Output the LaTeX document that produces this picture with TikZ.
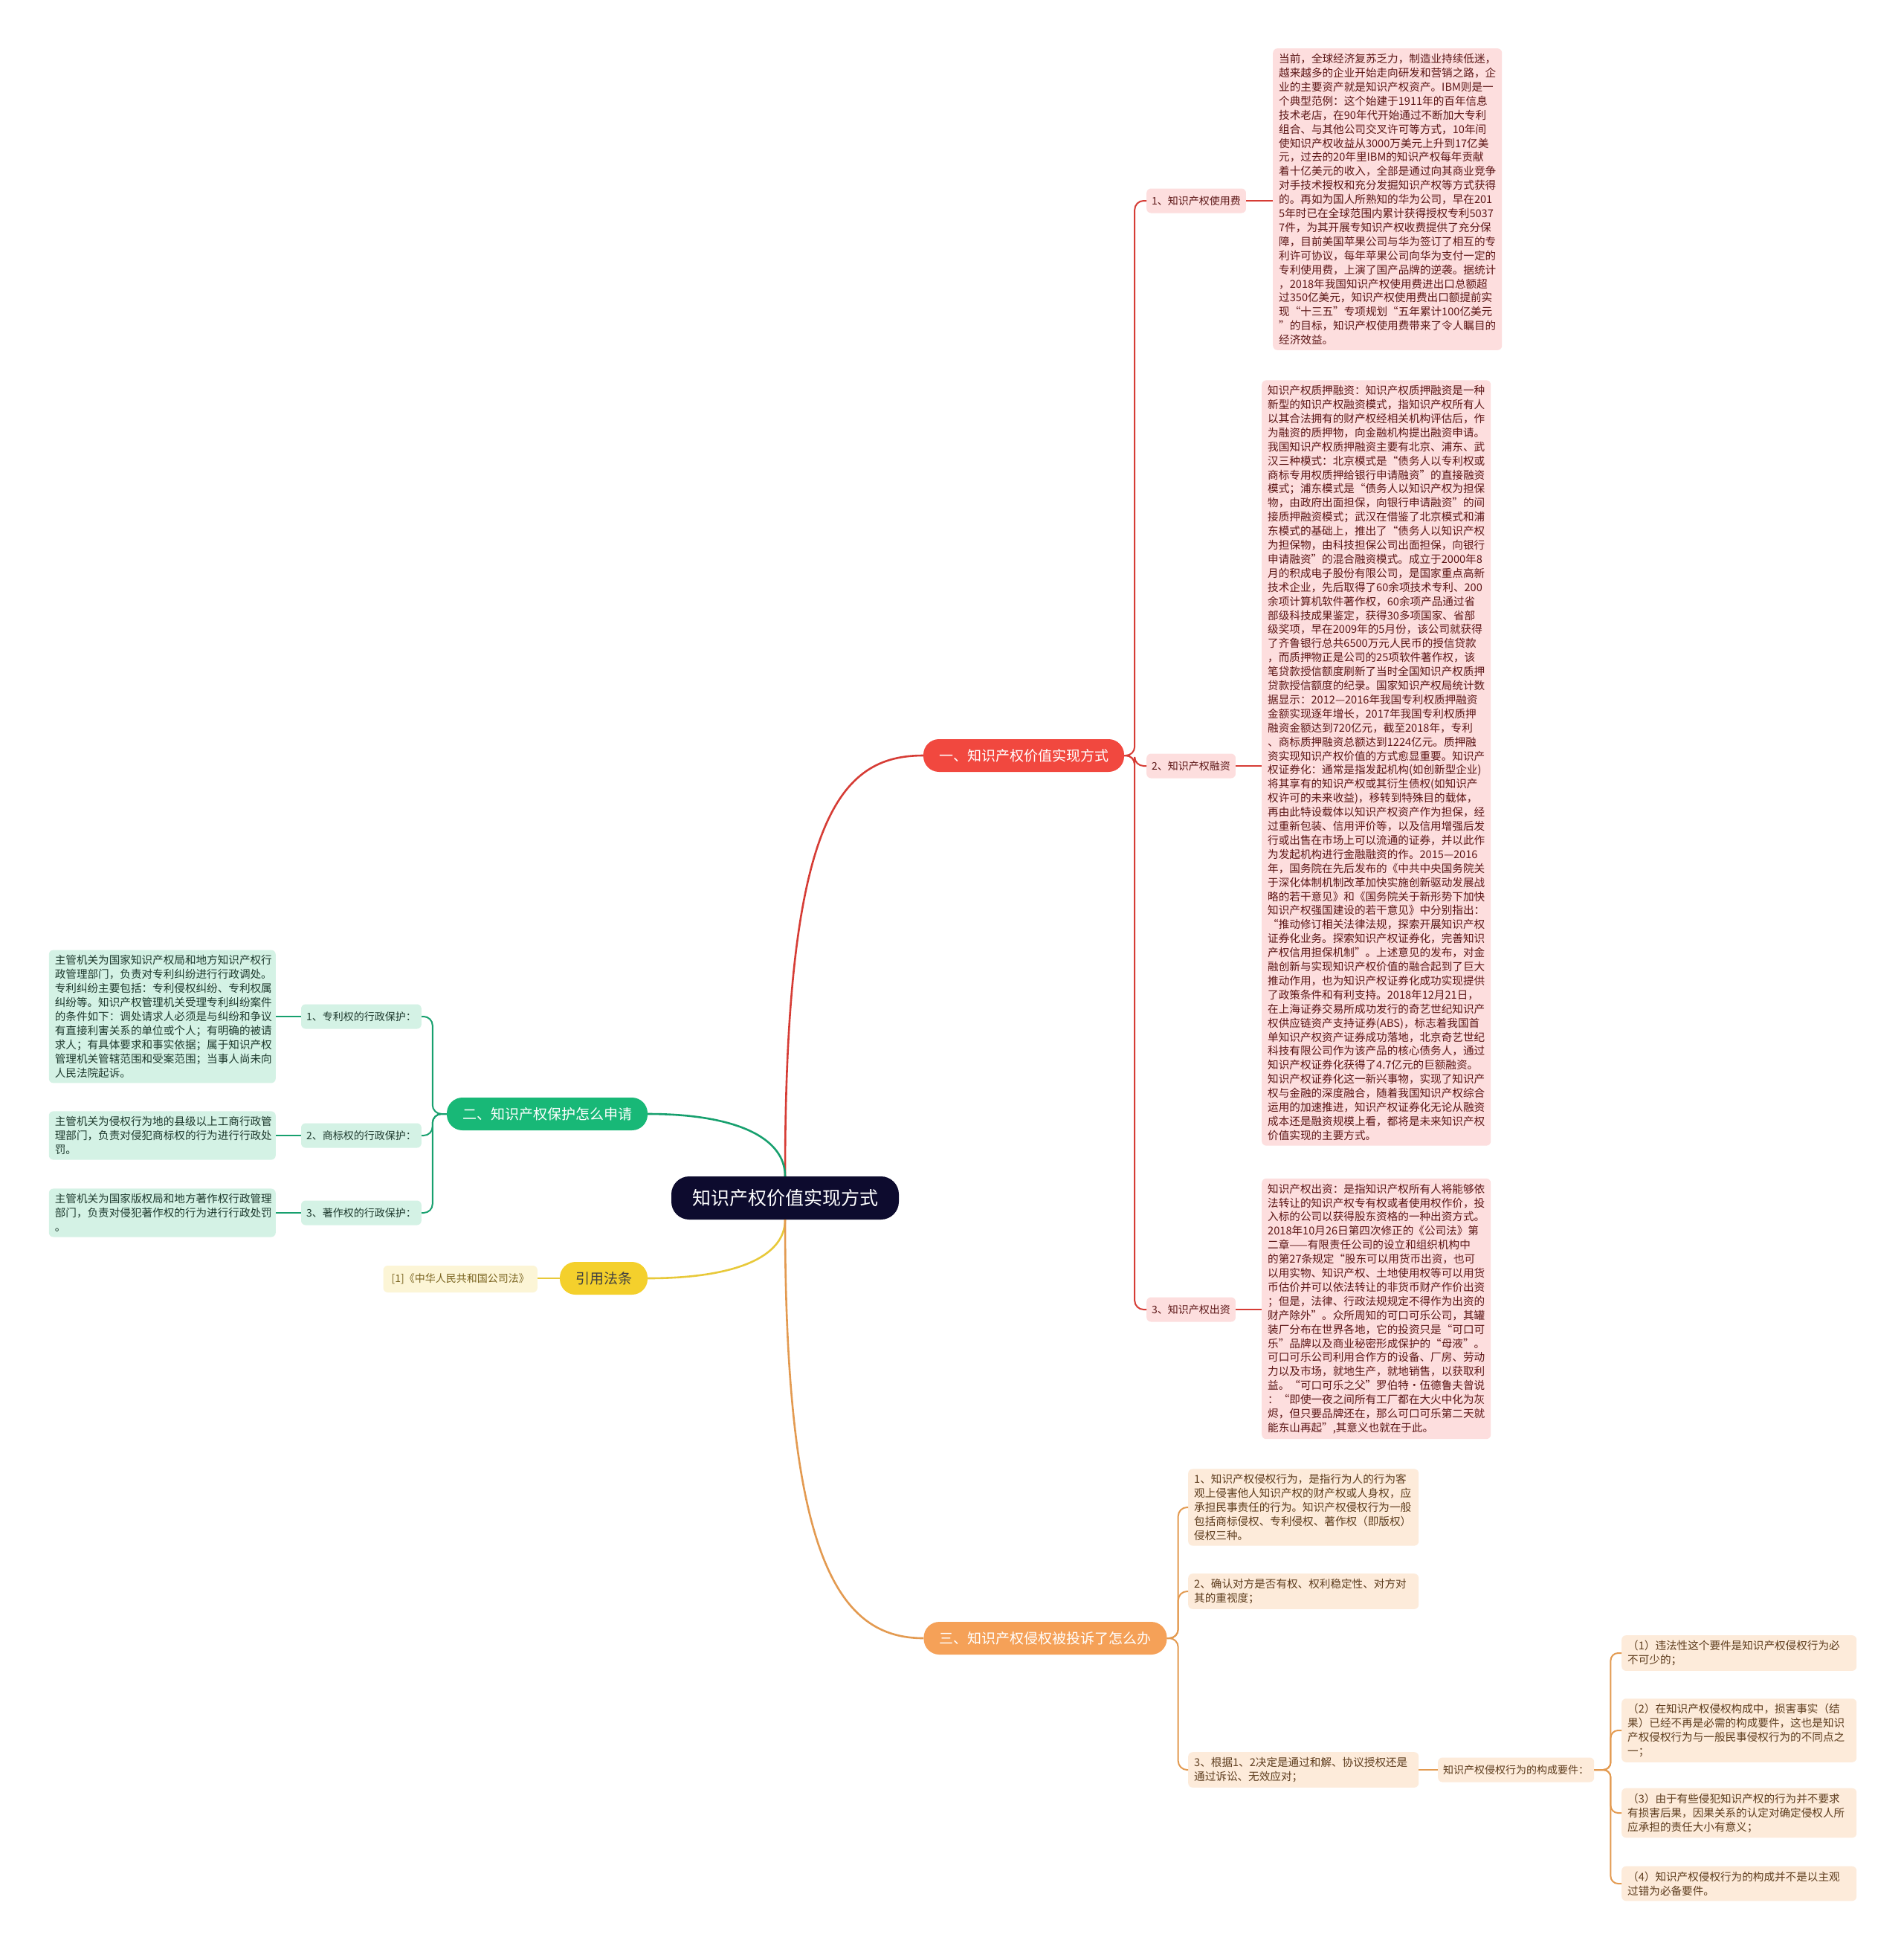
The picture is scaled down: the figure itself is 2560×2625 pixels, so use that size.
\documentclass[tikz,border=0pt]{standalone}
\usepackage{fontspec}
\setmainfont{Noto Sans CJK SC}
\definecolor{centerfill}{HTML}{0D0B2E}
\definecolor{redmain}{HTML}{F1483F}
\definecolor{redline}{HTML}{D63C35}
\definecolor{redleaf}{HTML}{FDDEDE}
\definecolor{redtext}{HTML}{5C1616}
\definecolor{greenmain}{HTML}{18B877}
\definecolor{greenline}{HTML}{17A06E}
\definecolor{greenleaf}{HTML}{D4F2E5}
\definecolor{greentext}{HTML}{1E3A2E}
\definecolor{yellowmain}{HTML}{F4D02C}
\definecolor{yellowline}{HTML}{E8C93A}
\definecolor{yellowleaf}{HTML}{FCF5D6}
\definecolor{yellowtext}{HTML}{7A6420}
\definecolor{orangemain}{HTML}{F5A158}
\definecolor{orangeline}{HTML}{E39A50}
\definecolor{orangeleaf}{HTML}{FDEBDA}
\definecolor{orangetext}{HTML}{5E3D1E}
\tikzset{
  centerbox/.style={fill=centerfill, text=white, rounded corners=24pt, inner xsep=28pt, inner ysep=0pt, minimum height=58pt, font=\fontsize{25}{30}\selectfont},
  mainbox/.style={rounded corners=21pt, inner xsep=21pt, inner ysep=0pt, minimum height=44pt, font=\fontsize{19}{23}\selectfont},
  labelbox/.style={rounded corners=6pt, inner xsep=7pt, inner ysep=0pt, minimum height=33pt, font=\fontsize{14}{18}\selectfont},
  leafbox/.style={rounded corners=6pt, inner xsep=8pt, inner ysep=7pt, align=left, font=\fontsize{14.6}{18.9}\selectfont},
  redlabel/.style={labelbox, fill=redleaf, text=redtext},
  greenlabel/.style={labelbox, fill=greenleaf, text=greentext},
  orangelabel/.style={labelbox, fill=orangeleaf, text=orangetext},
  redleafbox/.style={leafbox, fill=redleaf, text=redtext, text width=292pt},
  greenleafbox/.style={leafbox, fill=greenleaf, text=greentext, text width=289pt},
  orangeleafbox/.style={leafbox, fill=orangeleaf, text=orangetext, text width=294pt},
  orangesmallbox/.style={leafbox, fill=orangeleaf, text=orangetext, text width=300pt},
  yellowleafbox/.style={labelbox, fill=yellowleaf, text=yellowtext, minimum height=36pt, inner xsep=11pt},
  redconn/.style={draw=redline, line width=2pt, rounded corners=12pt},
  greenconn/.style={draw=greenline, line width=2pt, rounded corners=12pt},
  orangeconn/.style={draw=orangeline, line width=2pt, rounded corners=12pt},
  yellowconn/.style={draw=yellowline, line width=2pt},
}
\begin{document}
\begin{tikzpicture}[x=1pt,y=-1pt]
\useasboundingbox (0,0) rectangle (2560,2625);
\fill[white] (0,0) rectangle (2560,2625);

% center and main branches
\node[centerbox] (c) at (1056,1611) {知识产权价值实现方式};
\node[mainbox, fill=redmain, text=white] (r) at (1377,1016) {一、知识产权价值实现方式};
\node[mainbox, fill=greenmain, text=white] (g) at (736,1498) {二、知识产权保护怎么申请};
\node[mainbox, fill=yellowmain, text=black!75] (y) at (812,1719) {引用法条};
\node[mainbox, fill=orangemain, text=white] (o) at (1406,2203) {三、知识产权侵权被投诉了怎么办};

\draw[draw=redline, line width=2.6pt] (c.north) .. controls (1056,1100) and (1130,1016) .. (r.west);
\draw[draw=greenline, line width=2.6pt] (c.north) .. controls (1056,1530) and (990,1498) .. (g.east);
\draw[draw=yellowline, line width=2.6pt] (c.south) .. controls (1056,1690) and (990,1719) .. (y.east);
\draw[draw=orangeline, line width=2.6pt] (c.south) .. controls (1056,2100) and (1130,2203) .. (o.west);

% red branch
\node[redlabel, anchor=west] (r1) at (1542,270) {1、知识产权使用费};
\node[redlabel, anchor=west] (r2) at (1542,1030) {2、知识产权融资};
\node[redlabel, anchor=west] (r3) at (1542,1761) {3、知识产权出资};

\node[redleafbox, anchor=west] (r1t) at (1712,268) {当前，全球经济复苏乏力，制造业持续低迷，\\
越来越多的企业开始走向研发和营销之路，企\\
业的主要资产就是知识产权资产。IBM则是一\\
个典型范例：这个始建于1911年的百年信息\\
技术老店，在90年代开始通过不断加大专利\\
组合、与其他公司交叉许可等方式，10年间\\
使知识产权收益从3000万美元上升到17亿美\\
元，过去的20年里IBM的知识产权每年贡献\\
着十亿美元的收入，全部是通过向其商业竞争\\
对手技术授权和充分发掘知识产权等方式获得\\
的。再如为国人所熟知的华为公司，早在201\\
5年时已在全球范围内累计获得授权专利5037\\
7件，为其开展专知识产权收费提供了充分保\\
障，目前美国苹果公司与华为签订了相互的专\\
利许可协议，每年苹果公司向华为支付一定的\\
专利使用费，上演了国产品牌的逆袭。据统计\\
，2018年我国知识产权使用费进出口总额超\\
过350亿美元，知识产权使用费出口额提前实\\
现“十三五”专项规划“五年累计100亿美元\\
”的目标，知识产权使用费带来了令人瞩目的\\
经济效益。};

\node[redleafbox, anchor=west] (r2t) at (1697,1026) {知识产权质押融资：知识产权质押融资是一种\\
新型的知识产权融资模式，指知识产权所有人\\
以其合法拥有的财产权经相关机构评估后，作\\
为融资的质押物，向金融机构提出融资申请。\\
我国知识产权质押融资主要有北京、浦东、武\\
汉三种模式：北京模式是“债务人以专利权或\\
商标专用权质押给银行申请融资”的直接融资\\
模式；浦东模式是“债务人以知识产权为担保\\
物，由政府出面担保，向银行申请融资”的间\\
接质押融资模式；武汉在借鉴了北京模式和浦\\
东模式的基础上，推出了“债务人以知识产权\\
为担保物，由科技担保公司出面担保，向银行\\
申请融资”的混合融资模式。成立于2000年8\\
月的积成电子股份有限公司，是国家重点高新\\
技术企业，先后取得了60余项技术专利、200\\
余项计算机软件著作权，60余项产品通过省\\
部级科技成果鉴定，获得30多项国家、省部\\
级奖项，早在2009年的5月份，该公司就获得\\
了齐鲁银行总共6500万元人民币的授信贷款\\
，而质押物正是公司的25项软件著作权，该\\
笔贷款授信额度刷新了当时全国知识产权质押\\
贷款授信额度的纪录。国家知识产权局统计数\\
据显示：2012—2016年我国专利权质押融资\\
金额实现逐年增长，2017年我国专利权质押\\
融资金额达到720亿元，截至2018年，专利\\
、商标质押融资总额达到1224亿元。质押融\\
资实现知识产权价值的方式愈显重要。知识产\\
权证券化：通常是指发起机构(如创新型企业)\\
将其享有的知识产权或其衍生债权(如知识产\\
权许可的未来收益)，移转到特殊目的载体，\\
再由此特设载体以知识产权资产作为担保，经\\
过重新包装、信用评价等，以及信用增强后发\\
行或出售在市场上可以流通的证券，并以此作\\
为发起机构进行金融融资的作。2015—2016\\
年，国务院在先后发布的《中共中央国务院关\\
于深化体制机制改革加快实施创新驱动发展战\\
略的若干意见》和《国务院关于新形势下加快\\
知识产权强国建设的若干意见》中分别指出：\\
“推动修订相关法律法规，探索开展知识产权\\
证券化业务。探索知识产权证券化，完善知识\\
产权信用担保机制”。上述意见的发布，对金\\
融创新与实现知识产权价值的融合起到了巨大\\
推动作用，也为知识产权证券化成功实现提供\\
了政策条件和有利支持。2018年12月21日，\\
在上海证券交易所成功发行的奇艺世纪知识产\\
权供应链资产支持证券(ABS)，标志着我国首\\
单知识产权资产证券成功落地，北京奇艺世纪\\
科技有限公司作为该产品的核心债务人，通过\\
知识产权证券化获得了4.7亿元的巨额融资。\\
知识产权证券化这一新兴事物，实现了知识产\\
权与金融的深度融合，随着我国知识产权综合\\
运用的加速推进，知识产权证券化无论从融资\\
成本还是融资规模上看，都将是未来知识产权\\
价值实现的主要方式。};

\node[redleafbox, anchor=west] (r3t) at (1697,1760) {知识产权出资：是指知识产权所有人将能够依\\
法转让的知识产权专有权或者使用权作价，投\\
入标的公司以获得股东资格的一种出资方式。\\
2018年10月26日第四次修正的《公司法》第\\
二章——有限责任公司的设立和组织机构中\\
的第27条规定“股东可以用货币出资，也可\\
以用实物、知识产权、土地使用权等可以用货\\
币估价并可以依法转让的非货币财产作价出资\\
；但是，法律、行政法规规定不得作为出资的\\
财产除外”。众所周知的可口可乐公司，其罐\\
装厂分布在世界各地，它的投资只是“可口可\\
乐”品牌以及商业秘密形成保护的“母液”。\\
可口可乐公司利用合作方的设备、厂房、劳动\\
力以及市场，就地生产，就地销售，以获取利\\
益。“可口可乐之父”罗伯特·伍德鲁夫曾说\\
：“即使一夜之间所有工厂都在大火中化为灰\\
烬，但只要品牌还在，那么可口可乐第二天就\\
能东山再起”,其意义也就在于此。};

\draw[redconn] (r.east) -- ++(14,0) |- (r1.west);
\draw[redconn] (r.east) -- ++(14,0) |- (r2.west);
\draw[redconn] (r.east) -- ++(14,0) |- (r3.west);
\draw[redconn] (r1.east) -- (r1t.west |- r1.east);
\draw[redconn] (r2.east) -- (r2t.west |- r2.east);
\draw[redconn] (r3.east) -- (r3t.west |- r3.east);

% green branch
\node[greenlabel, anchor=east] (g1) at (567,1367) {1、专利权的行政保护：};
\node[greenlabel, anchor=east] (g2) at (567,1527) {2、商标权的行政保护：};
\node[greenlabel, anchor=east] (g3) at (567,1631) {3、著作权的行政保护：};

\node[greenleafbox, anchor=east] (g1t) at (371,1367) {主管机关为国家知识产权局和地方知识产权行\\
政管理部门，负责对专利纠纷进行行政调处。\\
专利纠纷主要包括：专利侵权纠纷、专利权属\\
纠纷等。知识产权管理机关受理专利纠纷案件\\
的条件如下：调处请求人必须是与纠纷和争议\\
有直接利害关系的单位或个人；有明确的被请\\
求人；有具体要求和事实依据；属于知识产权\\
管理机关管辖范围和受案范围；当事人尚未向\\
人民法院起诉。};
\node[greenleafbox, anchor=east] (g2t) at (371,1527) {主管机关为侵权行为地的县级以上工商行政管\\
理部门，负责对侵犯商标权的行为进行行政处\\
罚。};
\node[greenleafbox, anchor=east] (g3t) at (371,1631) {主管机关为国家版权局和地方著作权行政管理\\
部门，负责对侵犯著作权的行为进行行政处罚\\
。};

\draw[greenconn] (g.west) -- ++(-19,0) |- (g1.east);
\draw[greenconn] (g.west) -- ++(-19,0) |- (g2.east);
\draw[greenconn] (g.west) -- ++(-19,0) |- (g3.east);
\draw[greenconn] (g1.west) -- (g1t.east |- g1.west);
\draw[greenconn] (g2.west) -- (g2t.east |- g2.west);
\draw[greenconn] (g3.west) -- (g3t.east |- g3.west);

% yellow branch
\node[yellowleafbox, anchor=east] (y1) at (723,1720) {[1]《中华人民共和国公司法》};
\draw[yellowconn] (y.west) -- (y1.east |- y.west);

% orange branch
\node[orangeleafbox, anchor=west] (o1) at (1598,2027) {1、知识产权侵权行为，是指行为人的行为客\\
观上侵害他人知识产权的财产权或人身权，应\\
承担民事责任的行为。知识产权侵权行为一般\\
包括商标侵权、专利侵权、著作权（即版权）\\
侵权三种。};
\node[orangeleafbox, anchor=west] (o2) at (1598,2140) {2、确认对方是否有权、权利稳定性、对方对\\
其的重视度；};
\node[orangeleafbox, anchor=west] (o3) at (1598,2380) {3、根据1、2决定是通过和解、协议授权还是\\
通过诉讼、无效应对；};
\node[orangelabel, anchor=west] (o3a) at (1934,2380) {知识产权侵权行为的构成要件：};

\node[orangesmallbox, anchor=west] (p1) at (2181,2223) {（1）违法性这个要件是知识产权侵权行为必\\
不可少的；};
\node[orangesmallbox, anchor=west] (p2) at (2181,2327) {（2）在知识产权侵权构成中，损害事实（结\\
果）已经不再是必需的构成要件，这也是知识\\
产权侵权行为与一般民事侵权行为的不同点之\\
一；};
\node[orangesmallbox, anchor=west] (p3) at (2181,2438) {（3）由于有些侵犯知识产权的行为并不要求\\
有损害后果，因果关系的认定对确定侵权人所\\
应承担的责任大小有意义；};
\node[orangesmallbox, anchor=west] (p4) at (2181,2533) {（4）知识产权侵权行为的构成并不是以主观\\
过错为必备要件。};

\draw[orangeconn] (o.east) -- ++(15,0) |- (o1.west);
\draw[orangeconn] (o.east) -- ++(15,0) |- (o2.west);
\draw[orangeconn] (o.east) -- ++(15,0) |- (o3.west);
\draw[orangeconn] (o3.east) -- (o3a.west |- o3.east);
\draw[orangeconn, rounded corners=10pt] (o3a.east) -- ++(22,0) |- (p1.west);
\draw[orangeconn, rounded corners=10pt] (o3a.east) -- ++(22,0) |- (p2.west);
\draw[orangeconn, rounded corners=10pt] (o3a.east) -- ++(22,0) |- (p3.west);
\draw[orangeconn, rounded corners=10pt] (o3a.east) -- ++(22,0) |- (p4.west);
\end{tikzpicture}
\end{document}
